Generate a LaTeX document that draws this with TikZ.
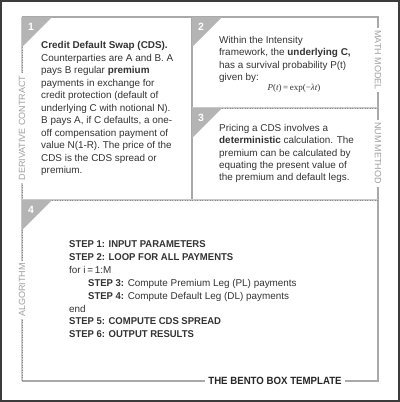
\documentclass[tikz,border=0pt]{standalone}
\usepackage{fontspec}
\setmainfont{Liberation Sans}
\newfontfamily\stepfont[FakeStretch=0.96]{Liberation Sans}
\newfontfamily\titlefont[FakeStretch=0.92]{Liberation Sans}
\newfontfamily\seriffont{Liberation Serif}
\definecolor{linegray}{HTML}{A9A9A9}
\definecolor{dotbase}{HTML}{C9C9C9}
\definecolor{dotdark}{HTML}{8A8A8A}
\definecolor{trigray}{HTML}{B4B4B4}
\definecolor{labelgray}{HTML}{A0A0A0}
\definecolor{textcol}{HTML}{333333}
\definecolor{framecol}{HTML}{3C3C3C}
\tikzset{
  solidline/.style={draw=linegray, line width=2bp},
  dotbaseline/.style={draw=dotbase, line width=2bp},
  dotoverlay/.style={draw=dotdark, line width=0.9bp, dash pattern=on 0.9bp off 1.6bp},
  tabtri/.style={fill=trigray},
  tabnum/.style={text=white, font=\fontsize{10.5bp}{12bp}\selectfont\bfseries, inner sep=0pt},
  body/.style={text=textcol, align=left, inner sep=0pt, anchor=north west,
    font=\fontsize{9.9bp}{12.5bp}\selectfont},
  bodyb/.style={text=textcol, align=left, inner sep=0pt, anchor=north west,
    font=\fontsize{9.9bp}{12.2bp}\selectfont},
  steps/.style={text=textcol, align=left, inner sep=0pt, anchor=north west,
    font=\fontsize{9.9bp}{12.86bp}\selectfont},
  sidelabel/.style={text=labelgray, fill=white, inner xsep=2.5bp, inner ysep=1.5bp,
    font=\fontsize{9bp}{10bp}\selectfont},
  bentotitle/.style={text=black!85, fill=white, inner xsep=3bp, inner ysep=1.5bp,
    font=\titlefont\fontsize{10.5bp}{12bp}\selectfont\bfseries}
}
\newcommand{\stp}[1]{{\stepfont\bfseries #1}}
\begin{document}
\begin{tikzpicture}[x=1bp, y=-1bp]
\useasboundingbox (0,0) rectangle (400,402);
\fill[white] (0,0) rectangle (400,402);
\draw[framecol, line width=2bp] (1,1) rectangle (398.5,400.5);
% frame coordinates
\coordinate (TL) at (22,17);
\coordinate (TM) at (192,17);
\coordinate (TR) at (378,17);
\coordinate (MM) at (192,108);
\coordinate (MR) at (378,108);
\coordinate (L4) at (22,200);
\coordinate (M4) at (192,200);
\coordinate (R4) at (378,200);
\coordinate (BL) at (22,381);
\coordinate (BR) at (378,381);
% lines
\draw[solidline] (BL) -- (BR) -- (TR) -- (TL);
\draw[solidline] (TM) -- (M4);
\draw[dotbaseline] (TL) -- (BL);
\draw[dotbaseline] (MM) -- (MR);
\draw[dotbaseline] (L4) -- (R4);
\draw[dotoverlay] (TL) -- (BL);
\draw[dotoverlay] (MM) -- (MR);
\draw[dotoverlay] (L4) -- (R4);
% tabs
\fill[tabtri] (TL) -- ++(30,0) -- ++(-30,30) -- cycle;
\fill[tabtri] (TM) -- ++(30,0) -- ++(-30,30) -- cycle;
\fill[tabtri] (MM) -- ++(30,0) -- ++(-30,30) -- cycle;
\fill[tabtri] (L4) -- ++(30,0) -- ++(-30,30) -- cycle;
\node[tabnum] (n1) at (31,27) {1};
\node[tabnum] (n2) at (201,27) {2};
\node[tabnum] (n3) at (201,118) {3};
\node[tabnum] (n4) at (31,210) {4};
% side labels
\node[sidelabel, rotate=90] (lab1) at (22,128) {DERIVATIVE CONTRACT};
\node[sidelabel, rotate=-90] (lab2) at (378,60) {MATH MODEL};
\node[sidelabel, rotate=-90] (lab3) at (378,153) {NUM METHOD};
\node[sidelabel, rotate=90] (lab4) at (22,290) {ALGORITHM};
\node[bentotitle] (bento) at (275,381) {THE BENTO BOX TEMPLATE};
% box 1 text
\node[body] (t1) at (41,39) {\rule{0pt}{9.5bp}\textbf{Credit Default Swap (CDS).}\\
Counterparties are A and B. A\\
pays B regular \textbf{premium}\\
payments in exchange for\\
credit protection (default of\\
underlying C with notional N).\\
B pays A, if C defaults, a one-\\
off compensation payment of\\
value N(1-R). The price of the\\
CDS is the CDS spread or\\
premium.};
% box 2 text
\node[bodyb] (t2) at (219,34) {\rule{0pt}{9.5bp}Within the Intensity\\
framework, the \textbf{underlying C,}\\
has a survival probability P(t)\\
given by:};
\node[text=textcol, inner sep=0pt, font=\seriffont\fontsize{9bp}{10bp}\selectfont] (f2) at (294,88)
  {\textit{P}(\textit{t})\,=\,exp(\textminus\textit{λt})};
% box 3 text
\node[bodyb] (t3) at (219,122) {\rule{0pt}{9.5bp}Pricing a CDS involves a\\
\textbf{deterministic} calculation. The\\
premium can be calculated by\\
equating the present value of\\
the premium and default legs.};
% box 4 text
\node[steps] (t4) at (69,238) {\rule{0pt}{9.5bp}\stp{STEP 1: INPUT PARAMETERS}\\
\stp{STEP 2: LOOP FOR ALL PAYMENTS}\\
for i\,=\,1:M\\
\hspace*{19bp}\stp{STEP 3:} Compute Premium Leg (PL) payments\\
\hspace*{19bp}\stp{STEP 4:} Compute Default Leg (DL) payments\\
end\\
\stp{STEP 5: COMPUTE CDS SPREAD}\\
\stp{STEP 6: OUTPUT RESULTS}};
\end{tikzpicture}
\end{document}
